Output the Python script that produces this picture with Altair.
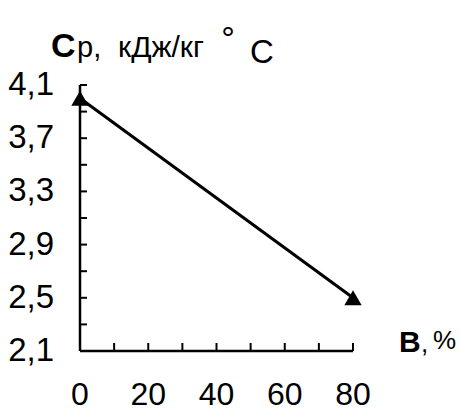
import altair as alt
import pandas as pd

# Specific heat vs. moisture content
moisture = [0, 80]
cp = [4.0, 2.5]

# Axis labels and inner tick positions
y_labels = [2.1, 2.5, 2.9, 3.3, 3.7, 4.1]
y_minor = [2.3, 2.5, 2.7, 2.9, 3.1, 3.3, 3.5, 3.7, 3.9, 4.1]
x_labels = [0, 20, 40, 60, 80]
x_minor = [10, 20, 30, 40, 50, 60, 70, 80]

W, H = 273, 266
FONT = "Liberation Sans"

xscale = alt.Scale(domain=[0, 80], nice=False, zero=False)
yscale = alt.Scale(domain=[2.1, 4.1], nice=False, zero=False)

df = pd.DataFrame({"moisture": moisture, "cp": cp})

line = alt.Chart(df).mark_line(color="black", strokeWidth=3).encode(
    x=alt.X("moisture:Q", scale=xscale, axis=None),
    y=alt.Y("cp:Q", scale=yscale, axis=None),
)
points = alt.Chart(df).mark_point(
    shape="triangle-up", filled=True, color="black", size=300, opacity=1
).encode(
    x=alt.X("moisture:Q", scale=xscale, axis=None),
    y=alt.Y("cp:Q", scale=yscale, axis=None),
)

# Axis lines
y_axis_line = alt.Chart().mark_rule(color="black", strokeWidth=2.5).encode(
    x=alt.X(datum=0, scale=xscale, axis=None),
    y=alt.Y(datum=2.1, scale=yscale, axis=None),
    y2=alt.datum(4.1),
)
x_axis_line = alt.Chart().mark_rule(color="black", strokeWidth=2.5).encode(
    y=alt.Y(datum=2.1, scale=yscale, axis=None),
    x=alt.X(datum=0, scale=xscale, axis=None),
    x2=alt.datum(80),
)

# Inward-pointing ticks along both axes
y_ticks = alt.Chart(pd.DataFrame({"v": y_minor})).mark_rule(
    color="black", strokeWidth=2
).encode(
    y=alt.Y("v:Q", scale=yscale, axis=None),
    x=alt.value(0),
    x2=alt.value(7),
)
x_ticks = alt.Chart(pd.DataFrame({"v": x_minor})).mark_rule(
    color="black", strokeWidth=2
).encode(
    x=alt.X("v:Q", scale=xscale, axis=None),
    y=alt.value(H),
    y2=alt.value(H - 8),
)

# Tick labels (decimal comma on the y axis)
y_tick_labels = alt.Chart(pd.DataFrame({"v": y_labels})).transform_calculate(
    lab="replace(format(datum.v, '.1f'), '.', ',')"
).mark_text(
    font=FONT, fontSize=33, color="black", align="right", baseline="middle"
).encode(
    y=alt.Y("v:Q", scale=yscale, axis=None),
    x=alt.value(-26),
    text="lab:N",
)
x_tick_labels = alt.Chart(pd.DataFrame({"v": x_labels})).mark_text(
    font=FONT, fontSize=32, color="black", align="center", baseline="middle"
).encode(
    x=alt.X("v:Q", scale=xscale, axis=None),
    y=alt.value(H + 44),
    text="v:N",
)


def label(text, x, y, size, bold=False, align="left", baseline="alphabetic"):
    return alt.Chart(pd.DataFrame({"t": [text]})).mark_text(
        font=FONT, fontSize=size, fontWeight="bold" if bold else "normal",
        color="black", align=align, baseline=baseline,
    ).encode(text="t:N", x=alt.value(x), y=alt.value(y))


# Y-axis title: Cp, кДж/кг °C
title_parts = [
    label("C", -29, -28, 34, bold=True),
    label("р,", -3, -28, 29),
    label("кДж/кг", 38, -28, 30),
    label("°", 148, -35, 34, align="center"),
    label("C", 170, -22, 33),
]

# X-axis title: В,%
xtitle_parts = [
    label("В", 319, 267, 30, bold=True),
    label(",", 341, 267, 26),
    label("%", 353, 264, 26),
]

chart = alt.layer(
    line, points, y_axis_line, x_axis_line, y_ticks, x_ticks,
    y_tick_labels, x_tick_labels, *title_parts, *xtitle_parts,
).properties(
    width=W, height=H,
    padding={"left": 80, "top": 85, "right": 108, "bottom": 61},
    autosize=alt.AutoSizeParams(type="none"),
    background="white",
).configure_view(stroke=None)

chart.save("out.html", embed_options={"renderer": "svg", "actions": False})
